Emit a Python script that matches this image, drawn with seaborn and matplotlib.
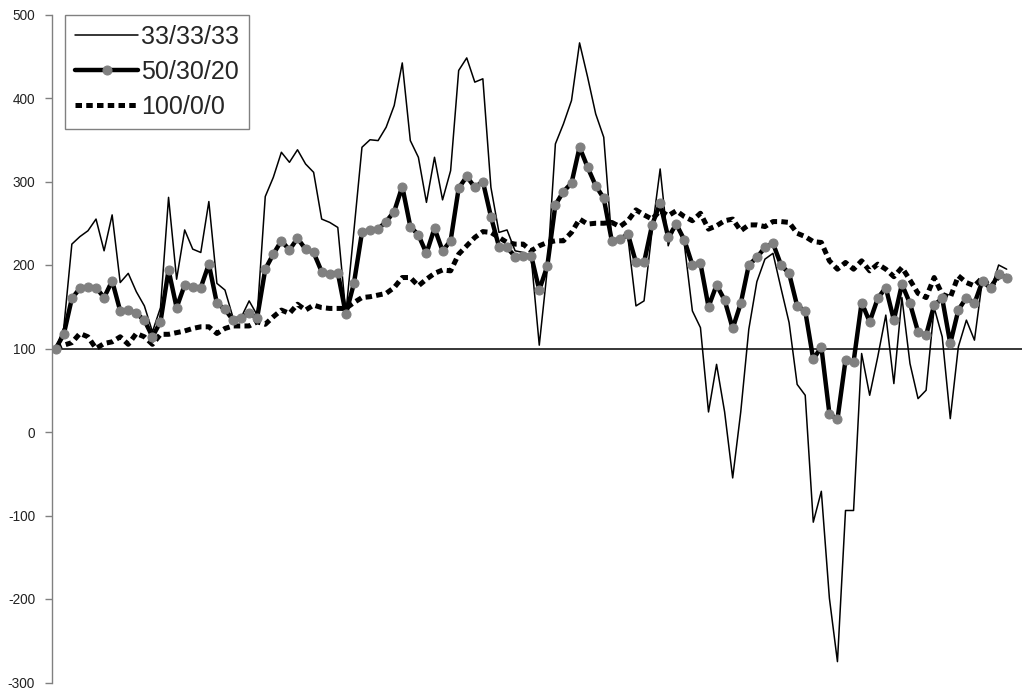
import numpy as np
import pandas as pd
import seaborn as sns
import matplotlib
matplotlib.use("Agg")
import matplotlib.pyplot as plt

# ---------------------------------
# Data (one value per period)
# ---------------------------------
series_labels = ["33/33/33", "50/30/20", "100/0/0"]

mix_33 = [100, 125, 225, 234, 241, 255, 217, 260, 179, 190, 168, 151, 120, 149, 281, 183, 242, 219, 215, 276,
          178, 170, 137, 137, 157, 140, 282, 305, 335, 323, 338, 321, 311, 255, 251, 245, 142, 241, 341, 350,
          349, 365, 391, 442, 349, 329, 275, 329, 278, 313, 433, 448, 419, 423, 293, 239, 242, 217, 215, 209,
          104, 195, 345, 369, 397, 466, 425, 381, 353, 229, 231, 233, 151, 157, 241, 315, 223, 251, 225, 145,
          125, 24, 81, 24, -55, 24, 123, 180, 207, 214, 172, 131, 57, 44, -108, -71, -199, -275, -94, -94,
          94, 44, 90, 140, 58, 161, 82, 40, 50, 149, 114, 16, 102, 134, 110, 183, 169, 200, 195]

mix_50 = [100, 117, 160, 172, 174, 173, 161, 181, 145, 146, 142, 134, 114, 132, 194, 149, 176, 174, 173, 201,
          154, 147, 134, 137, 142, 137, 195, 213, 229, 218, 232, 219, 215, 192, 189, 191, 141, 178, 239, 242,
          243, 252, 264, 294, 246, 236, 214, 244, 217, 229, 292, 306, 293, 300, 258, 222, 221, 210, 211, 211,
          170, 199, 272, 288, 298, 341, 317, 295, 280, 229, 231, 237, 203, 203, 248, 274, 233, 249, 230, 200,
          202, 150, 176, 158, 124, 154, 200, 209, 221, 226, 200, 190, 151, 145, 87, 102, 22, 15, 86, 84,
          155, 132, 160, 173, 134, 177, 154, 120, 116, 152, 160, 106, 146, 161, 154, 181, 172, 189, 185]

mix_100 = [100, 104, 107, 118, 114, 100, 106, 108, 114, 105, 118, 114, 105, 117, 117, 119, 121, 124, 126, 126,
           118, 124, 127, 127, 127, 132, 129, 138, 146, 142, 153, 146, 152, 149, 148, 148, 148, 155, 161, 162,
           164, 166, 173, 185, 185, 175, 183, 190, 194, 193, 213, 223, 233, 240, 239, 233, 227, 225, 225, 217,
           223, 227, 229, 229, 239, 255, 249, 250, 250, 251, 246, 253, 266, 260, 255, 265, 259, 265, 258, 253,
           262, 243, 247, 253, 255, 241, 248, 248, 246, 252, 252, 251, 238, 234, 228, 227, 205, 195, 203, 195,
           205, 193, 201, 195, 186, 197, 182, 166, 161, 185, 165, 161, 187, 179, 175, 185, 173, 186, 187]

y_ticks = [-300, -200, -100, 0, 100, 200, 300, 400, 500]
baseline = 100

df = pd.DataFrame({
    "period": np.arange(len(mix_50)),
    series_labels[0]: mix_33,
    series_labels[1]: mix_50,
    series_labels[2]: mix_100,
})

# ---------------------------------
# Plot
# ---------------------------------
sns.set_style("white")
plt.rcParams["font.family"] = ["Liberation Sans", "DejaVu Sans"]
plt.rcParams["axes.unicode_minus"] = False  # plain hyphen like the original

fig = plt.figure(figsize=(10.25, 6.91), dpi=100)
ax = fig.add_axes([51.7 / 1025, 8.5 / 691, (1022 - 51.7) / 1025, 668 / 691])

sns.lineplot(data=df, x="period", y=series_labels[0], color="black", linewidth=1.1,
             label=series_labels[0], ax=ax)
sns.lineplot(data=df, x="period", y=series_labels[2], color="black", linewidth=3.6,
             linestyle=(0, (1.3, 0.85)), label=series_labels[2], ax=ax)
sns.lineplot(data=df, x="period", y=series_labels[1], color="black", linewidth=3.2,
             marker="o", markersize=6.5, markerfacecolor="#808080", markeredgecolor="#808080",
             label=series_labels[1], ax=ax)

# category axis crosses at 100
ax.axhline(baseline, color="black", linewidth=1.1, zorder=1)

ax.set_xlim(-0.5, 119.9)
ax.set_ylim(-300, 500)
ax.set_yticks(y_ticks)
ax.set_xticks([])
ax.set_xlabel("")
ax.set_ylabel("")
for side in ["top", "right", "bottom"]:
    ax.spines[side].set_visible(False)
ax.spines["left"].set_color("#808080")
ax.spines["left"].set_linewidth(1.0)
ax.tick_params(axis="y", left=True, direction="out", length=5, width=1, color="#808080",
               labelsize=9.8, pad=7, labelcolor="#222222")

handles, labels = ax.get_legend_handles_labels()
order = [labels.index(s) for s in series_labels]
leg = ax.legend([handles[i] for i in order], [labels[i] for i in order],
                loc="upper left", bbox_to_anchor=(0.014, 1.0), borderaxespad=0,
                frameon=True, fancybox=False, shadow=False, edgecolor="#808080",
                fontsize=18, handlelength=2.5, handletextpad=0.12, borderpad=0.4,
                labelspacing=0.45)
leg.get_frame().set_linewidth(1.0)
leg.get_frame().set_alpha(1)

fig.savefig("out.png", dpi=100)
